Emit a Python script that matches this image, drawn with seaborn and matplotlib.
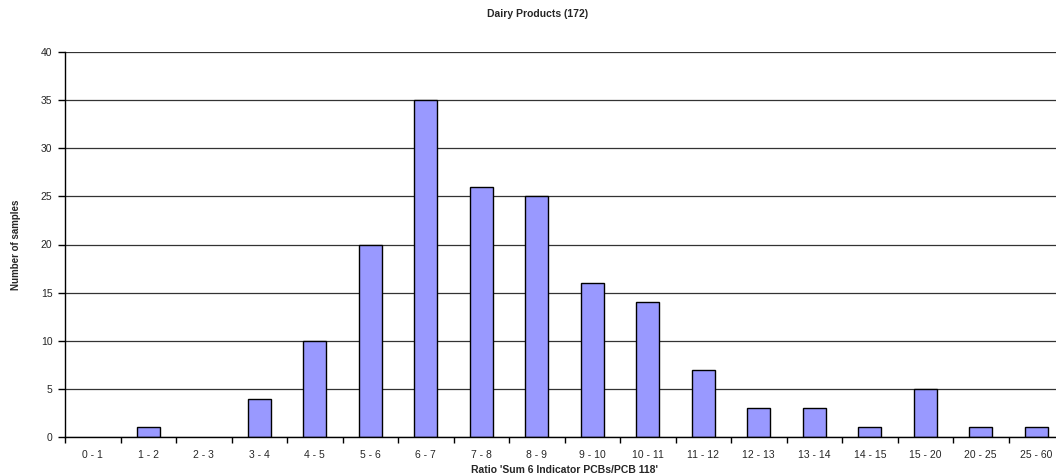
import pandas as pd
import matplotlib
matplotlib.use('Agg')
import matplotlib.pyplot as plt
from matplotlib.ticker import FixedLocator, MultipleLocator
import seaborn as sns

ratio_classes = ['0-1', '1-2', '2-3', '3-4', '4-5', '5-6', '6-7', '7-8', '8-9',
                 '9-10', '10-11', '11-12', '12-13', '13-14', '14-15', '15-20',
                 '20-25', '25-60']
samples = [0, 1, 0, 4, 10, 20, 35, 26, 25, 16, 14, 7, 3, 3, 1, 5, 1, 1]

title = 'Dairy Products (172)'
x_label = "Ratio 'Sum 6 Indicator PCBs/PCB 118'"
y_label = 'Number of samples'

df = pd.DataFrame({'ratio': ratio_classes, 'n': samples})

sns.set_style('white')
plt.rcParams['font.family'] = ['Liberation Sans', 'DejaVu Sans']

fig = plt.figure(figsize=(10.56, 4.74), dpi=100)
ax = fig.add_axes([65 / 1056, 37 / 474, 999 / 1056, 385 / 474])

# grid first so bars sit on top
ax.set_axisbelow(True)
ax.yaxis.grid(True, color='#333333', linewidth=0.9)
ax.xaxis.grid(False)

sns.barplot(data=df, x='ratio', y='n', order=ratio_classes, color='#9999ff',
            edgecolor='black', linewidth=1.0, width=0.41, saturation=1, ax=ax)

# empty classes: no outline
for bar, n in zip(ax.patches, samples):
    if n == 0:
        bar.set_linewidth(0)

ax.set_ylim(0, 40)
ax.set_xlim(-0.5, len(ratio_classes) - 0.5)
ax.yaxis.set_major_locator(MultipleLocator(5))

# category labels in the middle, tick marks on the boundaries
ax.set_xticks(range(len(ratio_classes)))
ax.set_xticklabels([c.replace('-', ' - ') for c in ratio_classes], fontsize=7.5)
ax.tick_params(axis='x', which='major', length=0, pad=9)
ax.xaxis.set_minor_locator(FixedLocator([i - 0.5 for i in range(len(ratio_classes) + 1)]))
ax.tick_params(axis='x', which='minor', length=4, width=1, color='black', direction='out')
ax.tick_params(axis='y', length=5, width=1, color='black', direction='out', labelsize=7.5, pad=4)
ax.xaxis.set_ticks_position('bottom')
ax.yaxis.set_ticks_position('left')

for s in ['top', 'right']:
    ax.spines[s].set_visible(False)
for s in ['left', 'bottom']:
    ax.spines[s].set_color('black')
    ax.spines[s].set_linewidth(1.0)

ax.set_xlabel(x_label, fontsize=7.5, fontweight='bold', labelpad=4)
ax.set_ylabel(y_label, fontsize=7, fontweight='bold', labelpad=14)
fig.text(538 / 1056, 1 - 14 / 474, title, ha='center', va='center',
         fontsize=7.5, fontweight='bold')

fig.savefig('out.png', dpi=100)
